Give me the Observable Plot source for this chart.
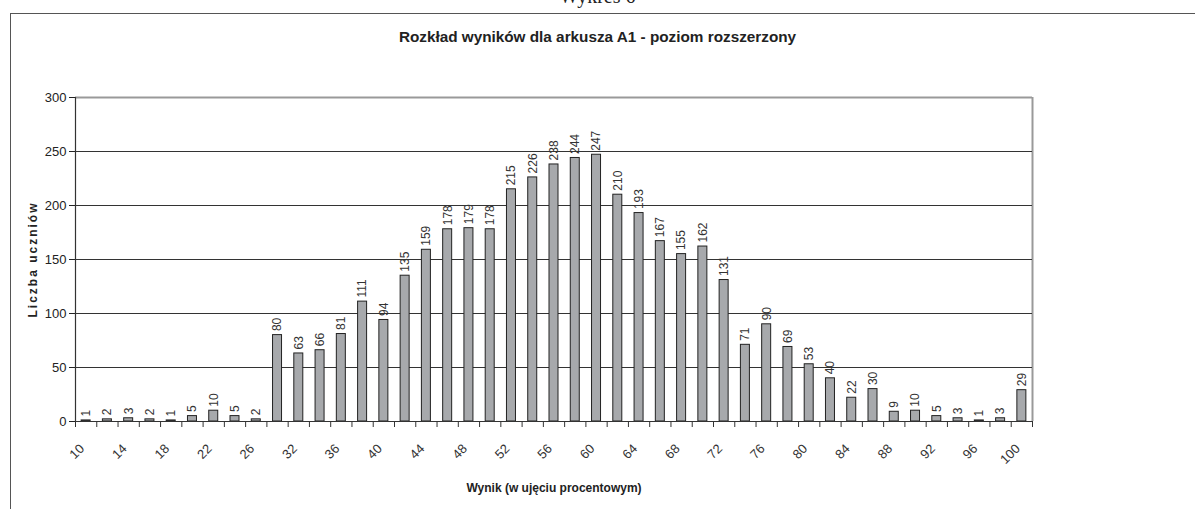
<!DOCTYPE html>
<html>
<head>
<meta charset="utf-8">
<script src="https://cdn.jsdelivr.net/npm/d3@7"></script>
<script src="https://cdn.jsdelivr.net/npm/@observablehq/plot@0.6"></script>
<style>
  html, body { margin: 0; padding: 0; background: #fff; }
  #wrap { position: relative; width: 1195px; height: 509px; overflow: hidden; font-family: "Liberation Sans", Arial, sans-serif; }
  #wykres { position: absolute; top: -15px; left: 0; width: 1195px; text-align: center; font-family: "Liberation Serif", "Times New Roman", serif; font-size: 20px; color: #222; }
  #frame { position: absolute; left: 10px; top: 13px; right: -20px; bottom: -20px; border-top: 1.5px solid #555; border-left: 1.5px solid #555; }
  #title { position: absolute; top: 28px; left: 0; width: 1195px; text-align: center; font-weight: bold; font-size: 15.3px; color: #222; }
  #chart { position: absolute; left: 0; top: 0; }
</style>
</head>
<body>
<div id="wrap">
  <div id="wykres">Wykres 6</div>
  <div id="frame"></div>
  <div id="chart"></div>
  <div id="title">Rozkład wyników dla arkusza A1 - poziom rozszerzony</div>
</div>
<script>
// Data
const categories = [10, 12, 14, 16, 18, 20, 22, 24, 26, 30, 32, 34, 36, 38, 40, 42, 44, 46, 48, 50, 52, 54, 56, 58, 60, 62, 64, 66, 68, 70, 72, 74, 76, 78, 80, 82, 84, 86, 88, 90, 92, 94, 96, 98, 100];
const counts = [1, 2, 3, 2, 1, 5, 10, 5, 2, 80, 63, 66, 81, 111, 94, 135, 159, 178, 179, 178, 215, 226, 238, 244, 247, 210, 193, 167, 155, 162, 131, 71, 90, 69, 53, 40, 22, 30, 9, 10, 5, 3, 1, 3, 29];
const xTickLabels = ["10", "14", "18", "22", "26", "32", "36", "40", "44", "48", "52", "56", "60", "64", "68", "72", "76", "80", "84", "88", "92", "96", "100"];
const yTicks = [0, 50, 100, 150, 200, 250, 300];
const gridValues = [50, 100, 150, 200, 250];

const W = 1195, H = 509;
const mL = 75, mR = 163, mT = 97, mB = 88;
const bw = (W - mL - mR) / categories.length;

const rows = categories.map((c, i) => ({cat: String(c), value: counts[i]}));
const labelRows = rows.filter(r => xTickLabels.includes(r.cat));
const first = [rows[0]];
const last = [rows[rows.length - 1]];

const chart = Plot.plot({
  width: W,
  height: H,
  marginLeft: mL,
  marginRight: mR,
  marginTop: mT,
  marginBottom: mB,
  style: {fontFamily: "'Liberation Sans', Arial, sans-serif", fontSize: "13px", color: "#222", background: "transparent", overflow: "visible"},
  x: {type: "band", domain: rows.map(r => r.cat), padding: 0, round: false, axis: null},
  y: {domain: [0, 300], ticks: yTicks, tickSize: 6, tickPadding: 3, label: null, tickFormat: d => String(d)},
  marks: [
    // plot area border (top / right, grey)
    Plot.ruleY([300], {stroke: "#999", strokeWidth: 2}),
    Plot.ruleX(last, {x: "cat", y1: 0, y2: 300, dx: bw / 2, stroke: "#999", strokeWidth: 2}),
    // gridlines
    Plot.ruleY(gridValues, {stroke: "#333", strokeWidth: 1}),
    // bars
    Plot.barY(rows, {x: "cat", y: "value", fill: "#a7a9ac", stroke: "#222", strokeWidth: 1, insetLeft: (bw - 9) / 2, insetRight: (bw - 9) / 2}),
    // axes lines
    Plot.ruleY([0], {stroke: "#333", strokeWidth: 1.2}),
    Plot.ruleX(first, {x: "cat", y1: 0, y2: 300, dx: -bw / 2, stroke: "#333", strokeWidth: 1.2}),
    // category tick marks between bars
    Plot.ruleX(rows, {x: "cat", y1: 0, y2: 0, dx: -bw / 2, insetBottom: -6, stroke: "#333"}),
    Plot.ruleX(last, {x: "cat", y1: 0, y2: 0, dx: bw / 2, insetBottom: -6, stroke: "#333"}),
    // value labels
    Plot.text(rows, {x: "cat", y: "value", text: d => String(d.value), rotate: -90, textAnchor: "start", lineAnchor: "middle", dy: -4, fontSize: 12, fill: "#333"}),
    // x tick labels
    Plot.text(labelRows, {x: "cat", frameAnchor: "bottom", text: "cat", rotate: -45, textAnchor: "end", lineAnchor: "middle", dx: -4, dy: 25, fontSize: 13, fill: "#333"}),
    // axis titles
    Plot.text(["Wynik (w ujęciu procentowym)"], {frameAnchor: "bottom", textAnchor: "middle", lineAnchor: "middle", dy: 67, fontWeight: "bold", fontSize: 12, fill: "#222"}),
    Plot.text(["Liczba uczniów"], {frameAnchor: "left", textAnchor: "middle", lineAnchor: "middle", dx: -42, rotate: -90, fontWeight: "bold", fontSize: 12, fill: "#222"})
  ]
});

d3.select(chart).selectAll("text").filter(function () { return this.textContent === "Liczba uczniów"; }).attr("letter-spacing", "2");
document.getElementById("chart").appendChild(chart);
</script>
</body>
</html>
